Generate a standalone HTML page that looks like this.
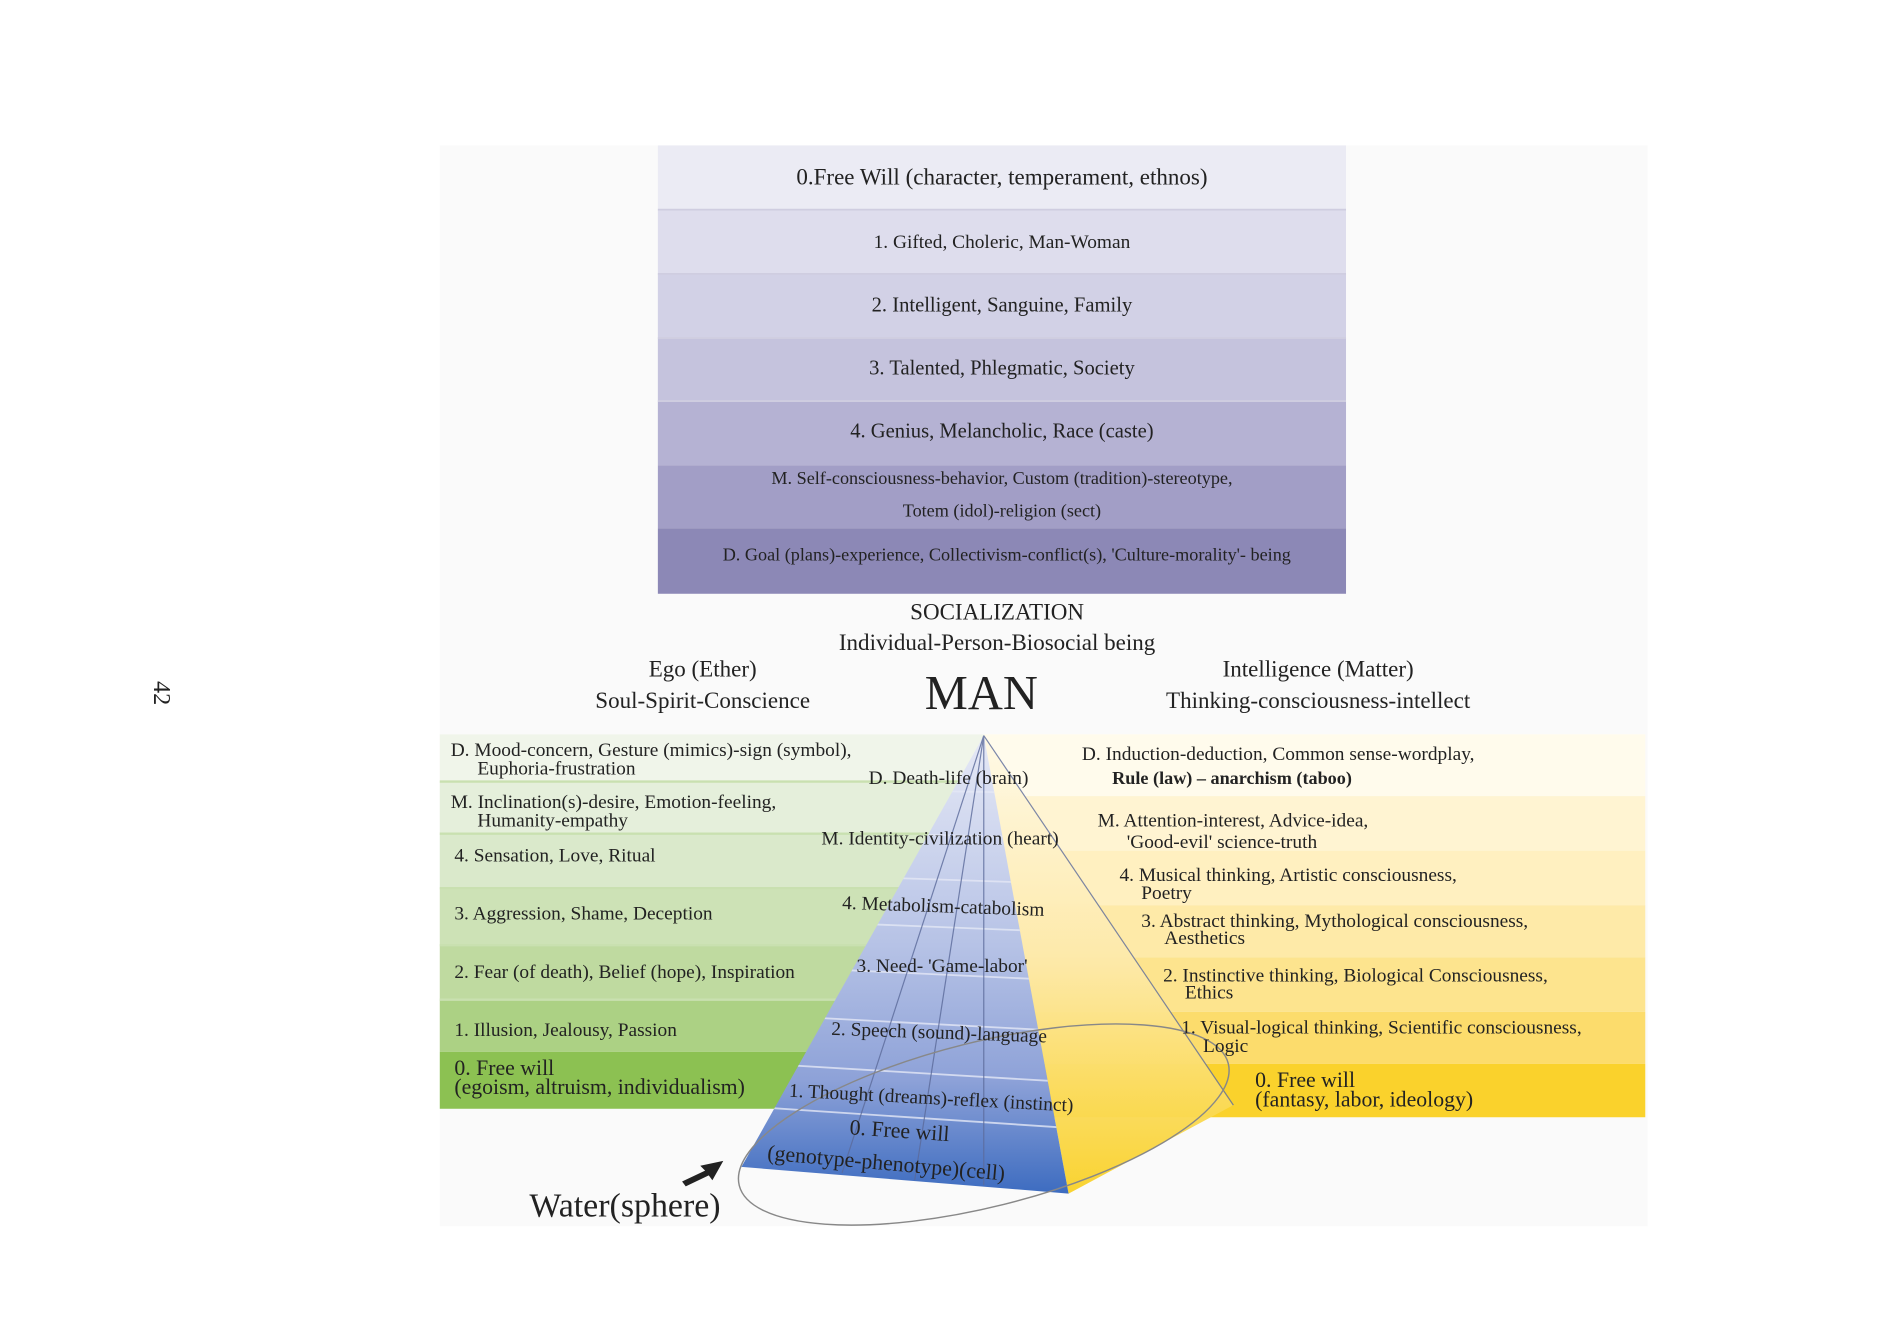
<!DOCTYPE html>
<html><head><meta charset="utf-8"><style>
html,body{margin:0;padding:0;background:#fff;width:1890px;height:1339px;overflow:hidden}
svg{display:block}
text{font-family:"Liberation Serif",serif;fill:#222}
</style></head><body>
<svg width="1890" height="1339" viewBox="0 0 1560 1105" preserveAspectRatio="none" xmlns="http://www.w3.org/2000/svg">
<defs>
<linearGradient id="blue" x1="0" y1="0" x2="0" y2="1">
<stop offset="0" stop-color="#e6e9f6"/><stop offset="0.45" stop-color="#b7c3e6"/><stop offset="0.75" stop-color="#8ea2d8"/><stop offset="1" stop-color="#3d6cc0"/></linearGradient>
<linearGradient id="yel" x1="0" y1="0" x2="0" y2="1">
<stop offset="0" stop-color="#fff9e6"/><stop offset="0.5" stop-color="#fde9a8"/><stop offset="1" stop-color="#f9d126"/></linearGradient>
<clipPath id="bf"><polygon points="812,607 612,963 882,985"/></clipPath>
</defs>
<rect x="363" y="120" width="997" height="892" fill="#fafafa"/>
<!-- top stack -->
<rect x="543" y="120" width="568" height="53" fill="#ebebf4"/>
<rect x="543" y="173" width="568" height="53" fill="#dedded"/>
<rect x="543" y="226" width="568" height="53" fill="#d2d1e6"/>
<rect x="543" y="279" width="568" height="52" fill="#c5c3dd"/>
<rect x="543" y="331" width="568" height="53" fill="#b5b2d3"/>
<rect x="543" y="384" width="568" height="52" fill="#a29ec6"/>
<rect x="543" y="436" width="568" height="54" fill="#8c88b6"/>
<g stroke="#cfcde0" stroke-width="1.5"><line x1="543" y1="173" x2="1111" y2="173"/><line x1="543" y1="226" x2="1111" y2="226"/><line x1="543" y1="279" x2="1111" y2="279"/><line x1="543" y1="331" x2="1111" y2="331"/></g>
<g text-anchor="middle" dominant-baseline="middle">
<text x="827" y="148" font-size="19">0.Free Will (character, temperament, ethnos)</text>
<text x="827" y="201" font-size="16">1. Gifted, Choleric, Man-Woman</text>
<text x="827" y="253" font-size="17">2. Intelligent, Sanguine, Family</text>
<text x="827" y="305" font-size="17">3. Talented, Phlegmatic, Society</text>
<text x="827" y="357" font-size="17">4. Genius, Melancholic, Race (caste)</text>
<text x="827" y="396" font-size="15">M. Self-consciousness-behavior, Custom (tradition)-stereotype,</text>
<text x="827" y="423" font-size="15">Totem (idol)-religion (sect)</text>
<text x="831" y="459" font-size="15">D. Goal (plans)-experience, Collectivism-conflict(s), 'Culture-morality'- being</text>
<text x="823" y="507" font-size="19">SOCIALIZATION</text>
<text x="823" y="532" font-size="19">Individual-Person-Biosocial being</text>
<text x="580" y="554" font-size="19">Ego (Ether)</text>
<text x="580" y="580" font-size="19">Soul-Spirit-Conscience</text>
<text x="810" y="576" font-size="40">MAN</text>
<text x="1088" y="554" font-size="19">Intelligence (Matter)</text>
<text x="1088" y="580" font-size="19">Thinking-consciousness-intellect</text>
</g>
<text x="0" y="0" font-size="20" transform="translate(127,572) rotate(90)" text-anchor="middle">42</text>
<!-- left bands -->
<rect x="363" y="606" width="450" height="39" fill="#f0f5ea"/>
<rect x="363" y="645" width="450" height="43" fill="#e5efdb"/>
<rect x="363" y="688" width="450" height="45" fill="#dae9cb"/>
<rect x="363" y="733" width="450" height="47" fill="#cde2b6"/>
<rect x="363" y="780" width="450" height="45" fill="#bfdaa0"/>
<rect x="363" y="825" width="450" height="43" fill="#acd184"/>
<rect x="363" y="868" width="450" height="47" fill="#8cc152"/>
<g stroke="#c9e0b0" stroke-width="2"><line x1="363" y1="645" x2="800" y2="645"/><line x1="363" y1="688" x2="800" y2="688"/><line x1="363" y1="733" x2="800" y2="733"/><line x1="363" y1="780" x2="800" y2="780"/><line x1="363" y1="825" x2="800" y2="825"/></g>
<!-- right bands -->
<rect x="812" y="606" width="546" height="51" fill="#fffbec"/>
<rect x="812" y="657" width="546" height="45" fill="#fff4d2"/>
<rect x="812" y="702" width="546" height="45" fill="#fff0c0"/>
<rect x="812" y="747" width="546" height="43" fill="#feeaa8"/>
<rect x="812" y="790" width="546" height="45" fill="#fde48e"/>
<rect x="812" y="835" width="546" height="43" fill="#fcdc6c"/>
<rect x="812" y="878" width="546" height="44" fill="#fad22c"/>
<!-- pyramid -->
<polygon points="812,607 882,985 1018,912" fill="url(#yel)" opacity="0.95"/>
<polygon points="812,607 612,963 882,985" fill="url(#blue)"/>
<g clip-path="url(#bf)" stroke="#e4e8f6" stroke-width="1.5" opacity="0.8">
<line x1="600" y1="650" x2="900" y2="655"/><line x1="600" y1="685" x2="900" y2="692"/><line x1="600" y1="720" x2="900" y2="730"/><line x1="600" y1="758" x2="900" y2="770"/><line x1="600" y1="796" x2="900" y2="810"/><line x1="600" y1="836" x2="900" y2="852"/><line x1="600" y1="876" x2="900" y2="894"/><line x1="600" y1="912" x2="900" y2="932"/>
</g>
<g stroke="#5b6a9a" stroke-width="1" fill="none" opacity="0.8">
<line x1="812" y1="607" x2="695" y2="968"/><line x1="812" y1="607" x2="755" y2="974"/><line x1="812" y1="607" x2="812" y2="978"/><line x1="812" y1="607" x2="1018" y2="912"/>
</g>
<ellipse cx="812" cy="928" rx="208" ry="68" transform="rotate(-14 812 928)" fill="none" stroke="#888" stroke-width="1.2"/>
<!-- arrow -->
<polygon points="597,958 578,962 582,966 563,975 566,979 585,970 588,974" fill="#222"/>
<!-- left texts -->
<g font-size="16">
<text x="372" y="624">D. Mood-concern, Gesture (mimics)-sign (symbol),</text>
<text x="394" y="639">Euphoria-frustration</text>
<text x="372" y="667">M. Inclination(s)-desire, Emotion-feeling,</text>
<text x="394" y="682">Humanity-empathy</text>
<text x="375" y="711">4. Sensation, Love, Ritual</text>
<text x="375" y="759">3. Aggression, Shame, Deception</text>
<text x="375" y="807">2. Fear (of death), Belief (hope), Inspiration</text>
<text x="375" y="855">1. Illusion, Jealousy, Passion</text>
</g>
<text x="375" y="887" font-size="18">0. Free will</text>
<text x="375" y="903" font-size="18">(egoism, altruism, individualism)</text>
<!-- pyramid texts -->
<g font-size="16">
<text x="717" y="647">D. Death-life (brain)</text>
<text x="678" y="697">M. Identity-civilization (heart)</text>
<text x="695" y="750" transform="rotate(2 695 750)">4. Metabolism-catabolism</text>
<text x="707" y="802">3. Need- 'Game-labor'</text>
<text x="686" y="854" transform="rotate(2 686 854)">2. Speech (sound)-language</text>
<text x="651" y="905" transform="rotate(3 651 905)">1. Thought (dreams)-reflex (instinct)</text>
</g>
<text x="701" y="936" font-size="18" transform="rotate(4 701 936)">0. Free will</text>
<text x="633" y="957" font-size="18" transform="rotate(5 633 957)">(genotype-phenotype)(cell)</text>
<!-- right texts -->
<g font-size="16">
<text x="893" y="627">D. Induction-deduction, Common sense-wordplay,</text>
<text x="918" y="647" font-weight="bold" font-size="15">Rule (law) – anarchism (taboo)</text>
<text x="906" y="682">M. Attention-interest, Advice-idea,</text>
<text x="930" y="700">'Good-evil' science-truth</text>
<text x="924" y="727">4. Musical thinking, Artistic consciousness,</text>
<text x="942" y="742">Poetry</text>
<text x="942" y="765">3. Abstract thinking,  Mythological consciousness,</text>
<text x="961" y="779">Aesthetics</text>
<text x="960" y="810">2. Instinctive thinking, Biological Consciousness,</text>
<text x="978" y="824">Ethics</text>
<text x="975" y="853">1. Visual-logical thinking, Scientific consciousness,</text>
<text x="993" y="868">Logic</text>
</g>
<text x="1036" y="897" font-size="18">0. Free will</text>
<text x="1036" y="913" font-size="18">(fantasy, labor, ideology)</text>
<text x="437" y="1004" font-size="28">Water(sphere)</text>
</svg>
</body></html>
